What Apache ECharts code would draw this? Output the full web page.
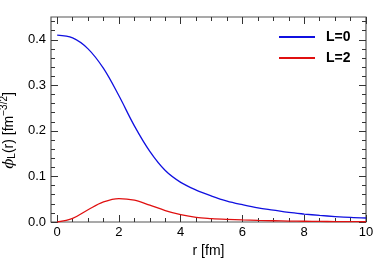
<!DOCTYPE html>
<html><head><meta charset="utf-8">
<script src="https://cdn.jsdelivr.net/npm/echarts@6/dist/echarts.min.js"></script>
<style>html,body{margin:0;padding:0;background:#fff}#c{width:374px;height:264px}</style>
</head><body><div id="c"></div>
<script>
const rValues = [0,0.5,1,1.5,2,2.5,3,3.5,4,4.5,5,5.5,6,6.5,7,7.5,8,8.5,9,9.5,10];
const phiL0 = [0.410,0.404,0.380,0.337,0.277,0.211,0.155,0.113,0.087,0.070,0.057,0.046,0.038,0.031,0.026,0.021,0.0175,0.0145,0.012,0.010,0.0088];
const phiL2 = [0,0.008,0.027,0.044,0.0515,0.048,0.037,0.025,0.016,0.010,0.0075,0.0058,0.0045,0.0035,0.0027,0.0020,0.0016,0.0012,0.0010,0.0008,0.0006];
const seriesNames = ['L=0','L=2'];
const xMajor = [0,2,4,6,8,10];
const xMinor = [0.5,1,1.5,2.5,3,3.5,4.5,5,5.5,6.5,7,7.5,8.5,9,9.5];
const yMajor = [0,0.1,0.2,0.3,0.4];
const yMinor = [0.02,0.04,0.06,0.08,0.12,0.14,0.16,0.18,0.22,0.24,0.26,0.28,0.32,0.34,0.36,0.38,0.42,0.44];

const tickColor = '#333';
const font = 'Liberation Sans, Arial, sans-serif';
function xAx(grid, pos, vals, len, labels, extra) {
  return Object.assign({
    type:'value', gridIndex:grid, min:-0.2, max:10, position:pos,
    axisLine:{show:false, onZero:false}, splitLine:{show:false},
    axisTick:{show:true, inside:true, length:len, customValues:vals, lineStyle:{color:tickColor, width:1}},
    axisLabel:{show:labels, customValues:vals, color:'#000', fontSize:13, fontFamily:font, margin:4}
  }, extra||{});
}
function yAx(grid, pos, vals, len, labels, extra) {
  return Object.assign({
    type:'value', gridIndex:grid, min:0, max:0.45, position:pos,
    axisLine:{show:false, onZero:false}, splitLine:{show:false},
    axisTick:{show:true, inside:true, length:len, customValues:vals, lineStyle:{color:tickColor, width:1}},
    axisLabel:{show:labels, customValues:vals, color:'#000', fontSize:13, fontFamily:font, margin:5,
      formatter:v=>v.toFixed(1)}
  }, extra||{});
}
const gridBox = {left:51, right:8, top:17, bottom:42, containLabel:false, outerBoundsMode:'none'};
const chart = echarts.init(document.getElementById('c'), null, {renderer:'canvas'});
chart.setOption({
  animation:false,
  grid:[
    Object.assign({show:true, borderColor:'#555', borderWidth:1.2, backgroundColor:'transparent'}, gridBox),
    Object.assign({show:false}, gridBox)
  ],
  legend:{
    orient:'vertical', left:274, top:25, itemWidth:36, itemHeight:14, itemGap:7,
    data:seriesNames.map(n=>({name:n, icon:'path://M0,6 L36,6 L36,8 L0,8 Z'})),
    textStyle:{fontSize:14, fontWeight:'bold', fontFamily:font, color:'#000', padding:[0,0,0,6]}
  },
  xAxis:[
    xAx(0, 'bottom', xMajor, 7, true, {name:'r [fm]', nameLocation:'middle', nameGap:19, nameTextStyle:{fontSize:14, fontFamily:font, color:'#000'}}),
    xAx(0, 'top', xMajor, 7, false),
    xAx(1, 'bottom', xMinor, 4, false),
    xAx(1, 'top', xMinor, 4, false)
  ],
  yAxis:[
    yAx(0, 'left', yMajor, 7, true, {
      name:'{a|ϕ}{sub|L}{b|(r) [fm}{sup|−3/2}{b|]}', nameLocation:'middle', nameGap:32, nameRotate:90,
      nameTextStyle:{color:'#000', fontFamily:font, fontSize:14, padding:[0,22,0,0], rich:{
        a:{fontSize:15, fontStyle:'italic', fontFamily:'DejaVu Serif', color:'#000'},
        b:{fontSize:14, fontFamily:font, color:'#000'},
        sub:{fontSize:10, fontFamily:font, color:'#000', padding:[6,0,0,0]},
        sup:{fontSize:10, fontFamily:font, color:'#000', padding:[0,0,9,0]}
      }}
    }),
    yAx(0, 'right', yMajor, 7, false),
    yAx(1, 'left', yMinor, 4, false),
    yAx(1, 'right', yMinor, 4, false)
  ],
  series:[
    {name:seriesNames[0], type:'line', smooth:0.35, symbol:'none', xAxisIndex:0, yAxisIndex:0,
     data:rValues.map((r,i)=>[r,phiL0[i]]), lineStyle:{color:'#1010e0', width:1.3}, itemStyle:{color:'#1010e0'}},
    {name:seriesNames[1], type:'line', smooth:0.35, symbol:'none', xAxisIndex:0, yAxisIndex:0,
     data:rValues.map((r,i)=>[r,phiL2[i]]), lineStyle:{color:'#e01010', width:1.3}, itemStyle:{color:'#e01010'}}
  ]
});
</script></body></html>
